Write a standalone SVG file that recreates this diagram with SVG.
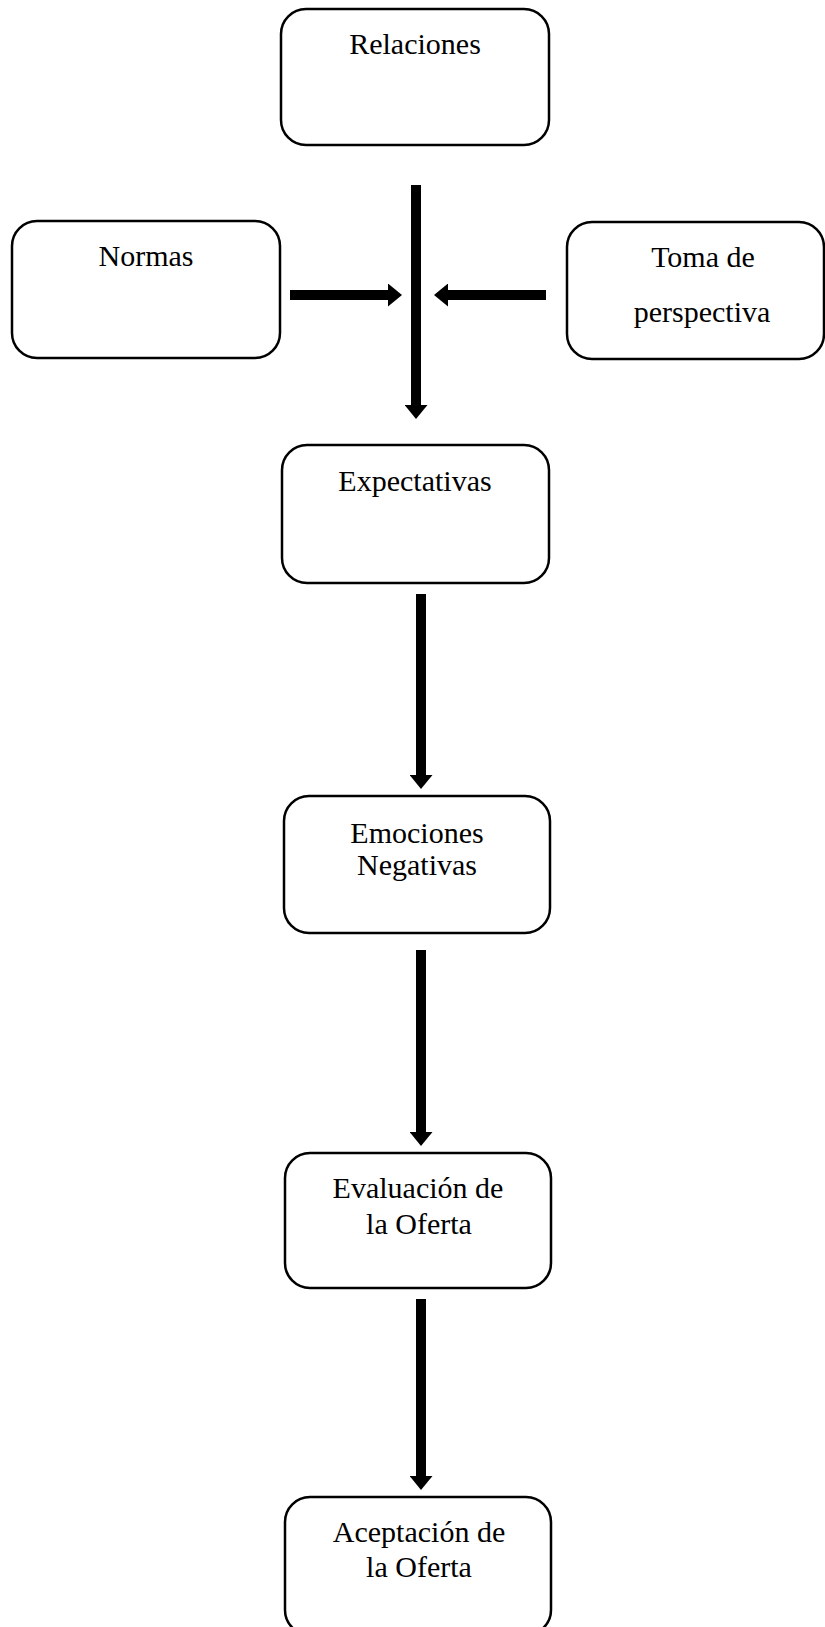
<svg xmlns="http://www.w3.org/2000/svg" width="825" height="1627" viewBox="0 0 825 1627">
  <style>
    .box { fill: #ffffff; stroke: #000000; stroke-width: 2.5; }
    .lbl { font-family: "Liberation Serif", "Times New Roman", serif; font-size: 30px; fill: #000000; text-anchor: middle; }
    .conn { stroke: #000000; stroke-width: 10; fill: none; stroke-linecap: butt; marker-end: url(#head); }
  </style>
  <defs>
    <marker id="head" markerUnits="userSpaceOnUse" viewBox="0 0 14 23" refX="0" refY="11.5" markerWidth="14" markerHeight="23" orient="auto">
      <path d="M0,0 L14,11.5 L0,23 Z" fill="#000000"/>
    </marker>
  </defs>
  <rect width="825" height="1627" fill="#ffffff"/>

  <g id="node-relaciones">
    <rect class="box" x="281" y="9" width="268" height="136" rx="25" ry="25"/>
    <text class="lbl" x="415" y="54">Relaciones</text>
  </g>
  <g id="node-normas">
    <rect class="box" x="12" y="221" width="268" height="137" rx="25" ry="25"/>
    <text class="lbl" x="146" y="266">Normas</text>
  </g>
  <g id="node-toma">
    <rect class="box" x="567" y="222" width="257" height="137" rx="25" ry="25"/>
    <text class="lbl" x="703" y="267">Toma de</text>
    <text class="lbl" x="702" y="322">perspectiva</text>
  </g>
  <g id="node-expectativas">
    <rect class="box" x="282" y="445" width="267" height="138" rx="25" ry="25"/>
    <text class="lbl" x="415" y="491">Expectativas</text>
  </g>
  <g id="node-emociones">
    <rect class="box" x="284" y="796" width="266" height="137" rx="25" ry="25"/>
    <text class="lbl" x="417" y="843">Emociones</text>
    <text class="lbl" x="417" y="875">Negativas</text>
  </g>
  <g id="node-evaluacion">
    <rect class="box" x="285" y="1153" width="266" height="135" rx="25" ry="25"/>
    <text class="lbl" x="418" y="1198">Evaluación de</text>
    <text class="lbl" x="419" y="1234">la Oferta</text>
  </g>
  <g id="node-aceptacion">
    <rect class="box" x="285" y="1497" width="266" height="138" rx="25" ry="25"/>
    <text class="lbl" x="419" y="1542">Aceptación de</text>
    <text class="lbl" x="419" y="1577">la Oferta</text>
  </g>

  <g id="connectors">
    <line class="conn" x1="416" y1="185" x2="416" y2="405"/>
    <line class="conn" x1="290" y1="295" x2="388" y2="295"/>
    <line class="conn" x1="546" y1="295" x2="448" y2="295"/>
    <line class="conn" x1="421" y1="594" x2="421" y2="775"/>
    <line class="conn" x1="421" y1="950" x2="421" y2="1132"/>
    <line class="conn" x1="421" y1="1299" x2="421" y2="1476"/>
  </g>
</svg>
